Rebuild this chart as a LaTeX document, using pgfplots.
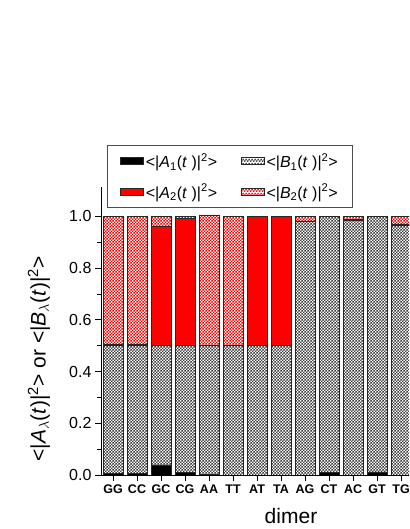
\documentclass[border=0pt]{standalone}
\usepackage{fontspec}
\setmainfont{Liberation Sans}
\usepackage{pgfplots}
\usepackage{pgfplotstable}
\pgfplotsset{compat=1.18}
\usetikzlibrary{patterns}

% fine checkerboard, as in the original dotted fills
\pgfdeclarepatternformonly{checker}{\pgfpointorigin}{\pgfqpoint{3.4pt}{3.4pt}}{\pgfqpoint{3.4pt}{3.4pt}}{%
  \pgfpathrectangle{\pgfpointorigin}{\pgfqpoint{1.7pt}{1.7pt}}%
  \pgfpathrectangle{\pgfqpoint{1.7pt}{1.7pt}}{\pgfqpoint{1.7pt}{1.7pt}}%
  \pgfusepath{fill}}

\pgfplotstableread{
x  a1    b1    a2    b2
0  0.005 0.495 0.005 0.495
1  0.005 0.495 0.006 0.494
2  0.039 0.461 0.462 0.038
3  0.009 0.491 0.492 0.008
4  0.003 0.500 0.000 0.503
5  0.000 0.500 0.000 0.500
6  0.000 0.500 0.500 0.000
7  0.000 0.500 0.500 0.000
8  0.000 0.982 0.000 0.018
9  0.010 0.990 0.000 0.000
10 0.000 0.985 0.003 0.012
11 0.012 0.988 0.000 0.000
12 0.000 0.966 0.004 0.030
}\dimers

\begin{document}
\begin{tikzpicture}
\useasboundingbox (-101pt,-54pt) rectangle (308pt,475pt);
\clip (-101pt,-54pt) rectangle (308pt,475pt);
\begin{axis}[
  scale only axis, width=380pt, height=288pt,
  at={(0,0)}, anchor=south west,
  ybar stacked, bar width=20pt,
  xmin=-0.5, xmax=15.33, ymin=0, ymax=1.114,
  axis x line*=bottom, axis y line*=left,
  axis line style={black, line width=0.9pt},
  tick align=outside, tick style={black, line width=0.9pt},
  major tick length=6pt, minor tick length=3.5pt,
  xtick={0,...,12},
  xticklabels={GG,CC,GC,CG,AA,TT,AT,TA,AG,CT,AC,GT,TG},
  x tick label style={font=\fontsize{12.5}{14}\selectfont\bfseries},
  ytick={0,0.2,0.4,0.6,0.8,1.0}, minor y tick num=1,
  y tick label style={/pgf/number format/.cd, fixed, fixed zerofill, precision=1,
    assume math mode=true, /tikz/.cd, font=\fontsize{16}{18}\selectfont},
  every axis x label/.style={at={(axis description cs:0.5,-0.1424)}, anchor=center},
  every axis y label/.style={at={(axis description cs:-0.163,0.403)}, rotate=90, anchor=center},
  xlabel={dimer},
  ylabel={<|\textit{A}\textsubscript{$\lambda$}(\textit{t})|\textsuperscript{2}> or <|\textit{B}\textsubscript{$\lambda$}(\textit{t})|\textsuperscript{2}>},
  label style={font=\fontsize{21}{24}\selectfont},
  legend columns=2,
  legend cell align=left,
  legend style={at={(0.016,1.146)}, anchor=north west, draw=black!70, line width=0.8pt,
    font=\fontsize{16}{18}\selectfont, inner xsep=13pt, inner ysep=6pt,
    /tikz/every even column/.append style={column sep=22pt}, row sep=11pt},
  legend image code/.code={\draw[#1, line width=0.4pt] (0pt,-3.5pt) rectangle (23pt,3.5pt);},
  every axis plot/.append style={draw=black!85, line width=0.6pt},
]
\addplot[fill=black] table[x=x, y=a1] {\dimers};
\addlegendentry{<|\textit{A}\textsubscript{1}(\textit{t} )|\textsuperscript{2}>}
\addplot[fill=white, postaction={pattern=checker, pattern color=black!75}] table[x=x, y=b1] {\dimers};
\addlegendentry{<|\textit{B}\textsubscript{1}(\textit{t} )|\textsuperscript{2}>}
\addplot[fill=red] table[x=x, y=a2] {\dimers};
\addlegendentry{<|\textit{A}\textsubscript{2}(\textit{t} )|\textsuperscript{2}>}
\addplot[fill=white, postaction={pattern=checker, pattern color=red}] table[x=x, y=b2] {\dimers};
\addlegendentry{<|\textit{B}\textsubscript{2}(\textit{t} )|\textsuperscript{2}>}
\end{axis}
\end{tikzpicture}
\end{document}
